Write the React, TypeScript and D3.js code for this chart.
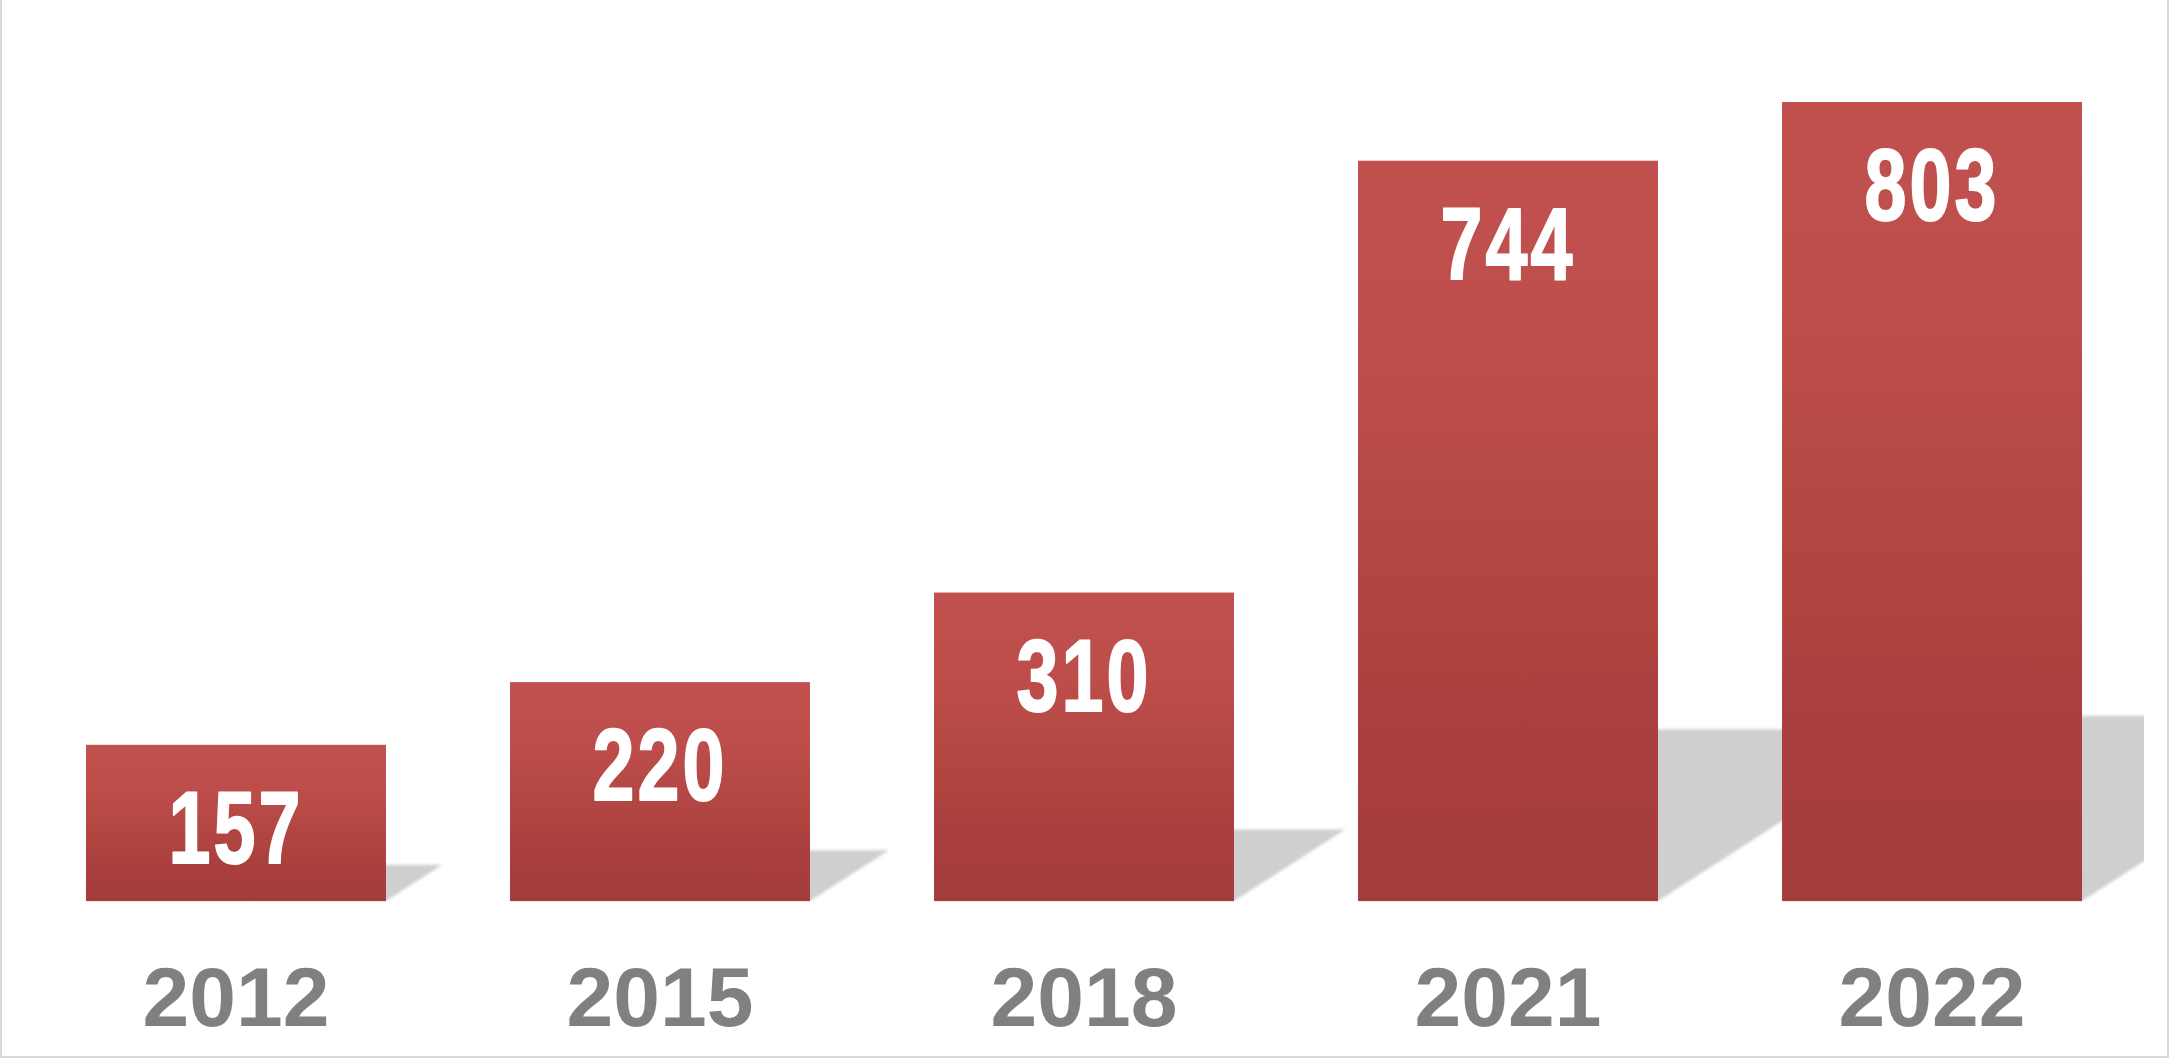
import React, { useEffect, useRef } from 'react';
import * as d3 from 'd3';

const years = ['2012', '2015', '2018', '2021', '2022'];
const counts = [157, 220, 310, 744, 803];

const W = 2169;
const H = 1058;

const App: React.FC = () => {
  const svgRef = useRef<SVGSVGElement>(null);

  useEffect(() => {
    document.body.style.margin = '0';
    if (!svgRef.current) return;

    const floor = 901;
    const svg = d3.select(svgRef.current);
    svg.selectAll('*').remove();

    const x = d3.scaleBand<string>()
      .domain(years)
      .range([24, 2144])
      .paddingInner(0.2925)
      .paddingOuter(0.1462);

    const y = d3.scaleLinear()
      .domain([0, 900])
      .range([floor, floor - 900 * 0.995]);

    const defs = svg.append('defs');

    const grad = defs.append('linearGradient')
      .attr('id', 'barGrad')
      .attr('x1', 0).attr('y1', 0).attr('x2', 0).attr('y2', 1);
    grad.append('stop').attr('offset', '0%').attr('stop-color', '#c1514e');
    grad.append('stop').attr('offset', '25%').attr('stop-color', '#be4e4b');
    grad.append('stop').attr('offset', '80%').attr('stop-color', '#a83f3c');
    grad.append('stop').attr('offset', '100%').attr('stop-color', '#a43c39');

    const blur = defs.append('filter')
      .attr('id', 'shadowBlur')
      .attr('x', '-10%').attr('y', '-10%').attr('width', '120%').attr('height', '120%');
    blur.append('feGaussianBlur').attr('stdDeviation', 1.8);

    defs.append('clipPath').attr('id', 'plotClip')
      .append('rect')
      .attr('x', 0).attr('y', 0)
      .attr('width', x.range()[1]).attr('height', floor + 2);

    const data = years.map((yr, i) => ({ yr, v: counts[i] }));

    // floor shadows, skewed back to the right
    svg.append('g')
      .attr('clip-path', 'url(#plotClip)')
      .selectAll('polygon')
      .data(data)
      .join('polygon')
      .attr('points', d => {
        const x0 = x(d.yr)!;
        const x1 = x0 + x.bandwidth();
        const h = floor - y(d.v);
        const dx = h * 0.36;
        const dy = h * 0.232;
        return [
          [x0, floor], [x1, floor], [x1 + dx, floor - dy], [x0 + dx, floor - dy],
        ].map(p => p.join(',')).join(' ');
      })
      .attr('fill', '#cfcfcf')
      .attr('filter', 'url(#shadowBlur)');

    // bars
    svg.append('g')
      .selectAll('rect')
      .data(data)
      .join('rect')
      .attr('x', d => x(d.yr)!)
      .attr('y', d => y(d.v))
      .attr('width', x.bandwidth())
      .attr('height', d => floor - y(d.v))
      .attr('fill', 'url(#barGrad)');

    // value labels (condensed look: no narrow font installed, so squeeze horizontally)
    svg.append('g')
      .selectAll('text')
      .data(data)
      .join('text')
      .attr('transform', d => `translate(${x(d.yr)! + x.bandwidth() / 2},${y(d.v) + 118}) scale(0.74,1)`)
      .attr('text-anchor', 'middle')
      .attr('fill', '#ffffff')
      .attr('stroke', '#ffffff')
      .attr('stroke-width', 2)
      .attr('stroke-linejoin', 'round')
      .attr('letter-spacing', 4)
      .attr('font-family', "'Liberation Sans Narrow', 'Liberation Sans', Arial, sans-serif")
      .attr('font-weight', 'bold')
      .attr('font-size', 102)
      .text(d => String(d.v));

    // year labels
    svg.append('g')
      .selectAll('text')
      .data(data)
      .join('text')
      .attr('x', d => x(d.yr)! + x.bandwidth() / 2)
      .attr('y', 1026)
      .attr('text-anchor', 'middle')
      .attr('fill', '#808080')
      .attr('font-family', "'Liberation Sans', Arial, sans-serif")
      .attr('font-weight', 'bold')
      .attr('font-size', 84)
      .text(d => d.yr);

    // frame (left, right, bottom)
    svg.append('path')
      .attr('d', `M1,0 V${H - 1} H${W - 1} V0`)
      .attr('fill', 'none')
      .attr('stroke', '#d9d9d9')
      .attr('stroke-width', 2);
  }, []);

  return (
    <svg
      ref={svgRef}
      width={W}
      height={H}
      viewBox={`0 0 ${W} ${H}`}
      style={{ display: 'block', background: '#ffffff' }}
    />
  );
};

export default App;
